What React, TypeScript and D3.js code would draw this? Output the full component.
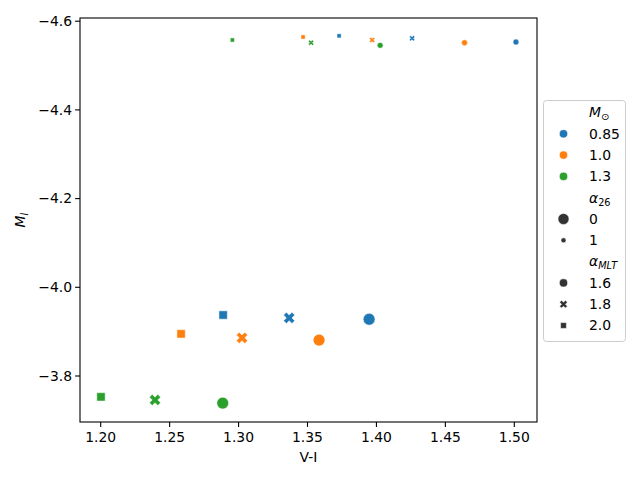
import React from 'react';
import * as d3 from 'd3';

// Stellar model grid: mass, alpha26 flag, mixing length, colour and magnitude
const massLevels = ['0.85', '1.0', '1.3'];
const alpha26Levels = ['0', '1'];
const mltLevels = ['1.6', '1.8', '2.0'];
const massColors = ['#1f77b4', '#ff7f0e', '#2ca02c'];

const pointMass = ['0.85', '0.85', '0.85', '1.0', '1.0', '1.0', '1.3', '1.3', '1.3',
  '0.85', '0.85', '0.85', '1.0', '1.0', '1.0', '1.3', '1.3', '1.3'];
const pointAlpha26 = ['0', '0', '0', '0', '0', '0', '0', '0', '0',
  '1', '1', '1', '1', '1', '1', '1', '1', '1'];
const pointMlt = ['1.6', '1.8', '2.0', '1.6', '1.8', '2.0', '1.6', '1.8', '2.0',
  '1.6', '1.8', '2.0', '1.6', '1.8', '2.0', '1.6', '1.8', '2.0'];
const pointVI = [1.3947, 1.3367, 1.2888, 1.3584, 1.3025, 1.2583, 1.2885, 1.2394, 1.2002,
  1.5012, 1.4259, 1.3729, 1.4639, 1.3969, 1.3468, 1.4027, 1.3526, 1.2955];
const pointMI = [-3.928, -3.931, -3.9375, -3.881, -3.886, -3.895, -3.739, -3.746, -3.753,
  -4.553, -4.5614, -4.567, -4.5515, -4.5576, -4.5644, -4.5456, -4.5515, -4.5576];

const xTicks = [1.2, 1.25, 1.3, 1.35, 1.4, 1.45, 1.5];
const yTicks = [-4.6, -4.4, -4.2, -4.0, -3.8];

const font = 'DejaVu Sans';
const fs = 13.9;

function markerPath(style: string, d: number): string {
  if (style === '1.6') {
    const r = d / 2;
    return `M${-r},0A${r},${r} 0 1,0 ${r},0A${r},${r} 0 1,0 ${-r},0Z`;
  }
  if (style === '2.0') {
    const h = d * 0.3536;
    return `M${-h},${-h}L${h},${-h}L${h},${h}L${-h},${h}Z`;
  }
  const pts = [[-1, -2], [0, -1], [1, -2], [2, -1], [1, 0], [2, 1],
    [1, 2], [0, 1], [-1, 2], [-2, 1], [-1, 0], [-2, -1]];
  const k = (d * 0.95) / 4;
  return 'M' + pts.map(p => `${p[0] * k},${p[1] * k}`).join('L') + 'Z';
}

export default function App() {
  const W = 640, H = 480;
  const left = 80, right = 537, top = 18, bottom = 422;
  const x = d3.scaleLinear().domain([1.2, 1.5]).range([100.7, 514.3]);
  const y = d3.scaleLinear().domain([-3.8, -4.6]).range([376, 21.2]);
  const color = d3.scaleOrdinal<string, string>().domain(massLevels).range(massColors);
  const size = d3.scaleOrdinal<string, number>().domain(alpha26Levels).range([11.8, 5.9]);
  const legendSize = d3.scaleOrdinal<string, number>().domain(alpha26Levels).range([11, 5]);

  const pts = pointVI.map((v, i) => ({
    vi: v, mi: pointMI[i], mass: pointMass[i], a26: pointAlpha26[i], mlt: pointMlt[i],
  }));

  const lx = 563.5, tx = 589;
  const rowY = (i: number) => 112.5 + i * 21.3;

  return (
    <svg width={W} height={H} style={{ position: 'absolute', left: 0, top: 0 }}
      fontFamily={font} fontSize={fs}>
      <rect width={W} height={H} fill="white" />
      {pts.map((p, i) => (
        <path key={i} d={markerPath(p.mlt, size(p.a26))}
          transform={`translate(${x(p.vi)},${y(p.mi)})`}
          fill={color(p.mass)} stroke="white" strokeWidth={0.5} />
      ))}
      <rect x={left} y={top} width={right - left} height={bottom - top}
        fill="none" stroke="black" strokeWidth={1.1} />
      {xTicks.map(t => (
        <g key={t} transform={`translate(${x(t)},${bottom})`}>
          <line y2={4.9} stroke="black" strokeWidth={1.1} />
          <text y={20} textAnchor="middle" fill="black">{d3.format('.2f')(t)}</text>
        </g>
      ))}
      {yTicks.map(t => (
        <g key={t} transform={`translate(${left},${y(t)})`}>
          <line x2={-4.9} stroke="black" strokeWidth={1.1} />
          <text x={-8} dy="0.35em" textAnchor="end" fill="black">
            {d3.format('.1f')(t).replace('-', '\u2212')}
          </text>
        </g>
      ))}
      <text x={308.5} y={462} textAnchor="middle">V-I</text>
      <text transform="translate(25,220) rotate(-90)" textAnchor="middle">
        <tspan fontStyle="italic">M</tspan>
        <tspan fontStyle="italic" fontSize={fs * 0.7} dy={3}>I</tspan>
      </text>

      <rect x={543.5} y={100.5} width={82} height={241} rx={3}
        fill="white" fillOpacity={0.8} stroke="#cccccc" strokeWidth={1} />
      <text x={tx} y={rowY(0)} dy="0.35em">
        <tspan fontStyle="italic">M</tspan>
        <tspan fontSize={fs * 0.7} dy={3}>{'\u2299'}</tspan>
      </text>
      {massLevels.map((m, i) => (
        <g key={m}>
          <circle cx={lx} cy={rowY(1 + i)} r={4.1} fill={color(m)} stroke="white" strokeWidth={0.5} />
          <text x={tx} y={rowY(1 + i)} dy="0.35em">{m}</text>
        </g>
      ))}
      <text x={tx} y={rowY(4)} dy="0.35em">
        <tspan fontStyle="italic">{'\u03b1'}</tspan>
        <tspan fontSize={fs * 0.7} dy={3}>26</tspan>
      </text>
      {alpha26Levels.map((a, i) => (
        <g key={a}>
          <circle cx={lx} cy={rowY(5 + i)} r={legendSize(a) / 2} fill="#333333" stroke="white" strokeWidth={0.5} />
          <text x={tx} y={rowY(5 + i)} dy="0.35em">{a}</text>
        </g>
      ))}
      <text x={tx} y={rowY(7)} dy="0.35em">
        <tspan fontStyle="italic">{'\u03b1'}</tspan>
        <tspan fontStyle="italic" fontSize={fs * 0.7} dy={3}>MLT</tspan>
      </text>
      {mltLevels.map((s, i) => (
        <g key={s}>
          <path d={markerPath(s, 8.2)} transform={`translate(${lx},${rowY(8 + i)})`}
            fill="#333333" stroke="white" strokeWidth={0.5} />
          <text x={tx} y={rowY(8 + i)} dy="0.35em">{s}</text>
        </g>
      ))}
    </svg>
  );
}
